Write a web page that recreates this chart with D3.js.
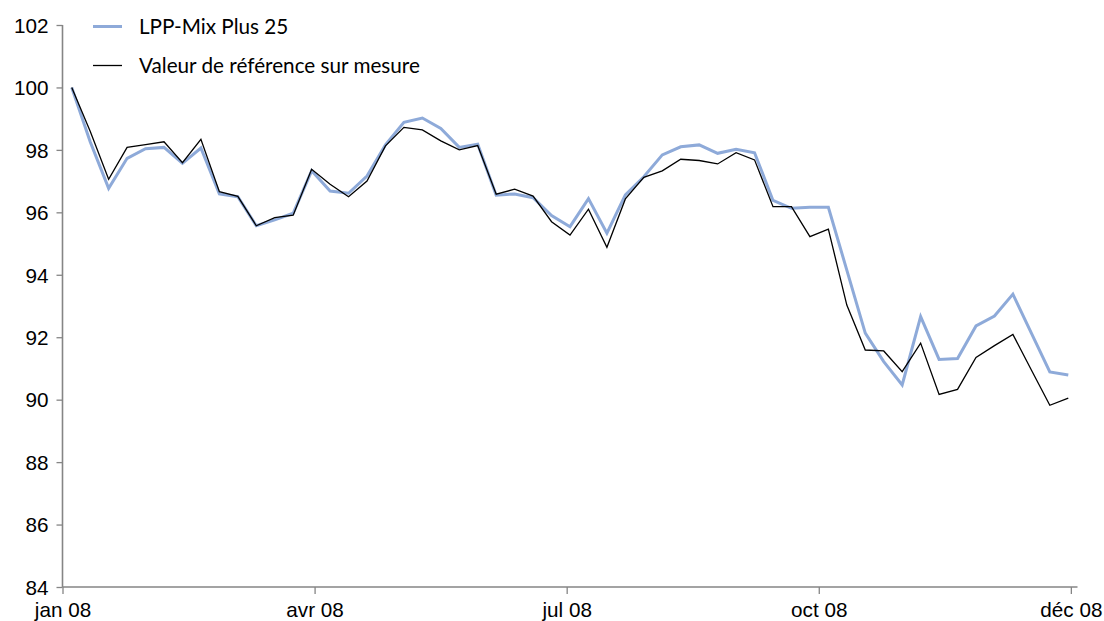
<!DOCTYPE html>
<html>
<head>
<meta charset="utf-8">
<script src="https://cdn.jsdelivr.net/npm/d3@7"></script>
<style>
  body { margin: 0; background: #fff; }
  svg { display: block; font-family: Lato, "Open Sans", sans-serif; }
</style>
</head>
<body>
<svg></svg>
<script>
// weekly index values, jan 08 -> déc 08 (55 weeks)
const seriesNames = ['LPP-Mix Plus 25', 'Valeur de référence sur mesure'];

const lppMix = [100.0, 98.26, 96.77, 97.73, 98.04, 98.08, 97.57, 98.06, 96.59, 96.5,
  95.57, 95.76, 95.97, 97.33, 96.68, 96.61, 97.16, 98.16, 98.88, 99.02,
  98.69, 98.08, 98.18, 96.55, 96.59, 96.47, 95.9, 95.54, 96.44, 95.33,
  96.56, 97.14, 97.84, 98.10, 98.16, 97.89, 98.02, 97.91, 96.38, 96.13,
  96.16, 96.16, 94.15, 92.13, 91.22, 90.47, 92.66, 91.29, 91.32, 92.36,
  92.68, 93.38, 92.13, 90.89, 90.79];

const reference = [100.0, 98.6, 97.06, 98.08, 98.17, 98.26, 97.59, 98.34, 96.66, 96.51,
  95.57, 95.83, 95.91, 97.38, 96.90, 96.50, 97.0, 98.13, 98.72, 98.64,
  98.29, 98.0, 98.14, 96.58, 96.74, 96.52, 95.70, 95.27, 96.10, 94.88,
  96.43, 97.12, 97.33, 97.70, 97.66, 97.55, 97.91, 97.68, 96.18, 96.18,
  95.22, 95.46, 93.03, 91.59, 91.56, 90.90, 91.81, 90.17, 90.33, 91.35,
  91.73, 92.09, 90.95, 89.82, 90.05];

const yTicks = [84, 86, 88, 90, 92, 94, 96, 98, 100, 102];
const xTickLabels = ['jan 08', 'avr 08', 'jul 08', 'oct 08', 'déc 08'];
const xTickStep = 13.66;   // weeks between labelled ticks


const width = 1104;
const height = 621;
const margin = { top: 25, right: 26.5, bottom: 34, left: 62.5 };
const fontSize = '20.7px';

const svg = d3.select('svg').attr('width', width).attr('height', height);

// category axis: each week takes one slot, points sit in the middle
const x = d3.scaleLinear()
  .domain([0, lppMix.length])
  .range([margin.left, width - margin.right]);

const y = d3.scaleLinear()
  .domain([84, 102])
  .range([height - margin.bottom, margin.top]);

const axisColor = '#858585';

// y axis
const yAxis = svg.append('g')
  .attr('transform', `translate(${margin.left},0)`)
  .call(d3.axisLeft(y).tickValues(yTicks).tickSize(6).tickPadding(8).tickFormat(d3.format('d')));
yAxis.select('.domain').attr('stroke', axisColor).attr('stroke-width', 1.6).attr('d', `M0,${y(102)}V${y(84)}`);
yAxis.selectAll('.tick line').attr('stroke', axisColor).attr('stroke-width', 1.3);
yAxis.selectAll('.tick text').attr('fill', '#000').style('font-size', fontSize).attr('dy', '0.35em');

// x axis
const xAxis = svg.append('g')
  .attr('transform', `translate(0,${y(84)})`)
  .call(d3.axisBottom(x)
    .tickValues(xTickLabels.map((d, i) => i * xTickStep))
    .tickFormat((d, i) => xTickLabels[i])
    .tickSize(7).tickPadding(8));
xAxis.select('.domain').attr('stroke', axisColor).attr('stroke-width', 1.6)
  .attr('d', `M${x(0)},0H${x(lppMix.length)}`);
xAxis.selectAll('.tick line').attr('stroke', axisColor).attr('stroke-width', 1.3);
xAxis.selectAll('.tick text').attr('fill', '#000').style('font-size', fontSize);


// lines
const line = d3.line()
  .x((d, i) => x(i + 0.5))
  .y(d => y(d));

svg.append('path')
  .datum(lppMix)
  .attr('fill', 'none')
  .attr('stroke', '#8eaad9')
  .attr('stroke-width', 3)
  .attr('d', line);

svg.append('path')
  .datum(reference)
  .attr('fill', 'none')
  .attr('stroke', '#000')
  .attr('stroke-width', 1.3)
  .attr('d', line);


// legend
const legendColors = ['#8eaad9', '#000'];
const legendWidths = [3, 1.3];

const legend = svg.append('g').attr('class', 'legend');
seriesNames.forEach((name, i) => {
  const ly = 26.5 + i * 39;
  legend.append('line')
    .attr('x1', 93).attr('x2', 122)
    .attr('y1', ly).attr('y2', ly)
    .attr('stroke', legendColors[i])
    .attr('stroke-width', legendWidths[i]);
  legend.append('text')
    .attr('x', 139).attr('y', ly)
    .attr('dy', '0.35em')
    .style('font-size', fontSize)
    .text(name);
});
</script>
</body>
</html>
